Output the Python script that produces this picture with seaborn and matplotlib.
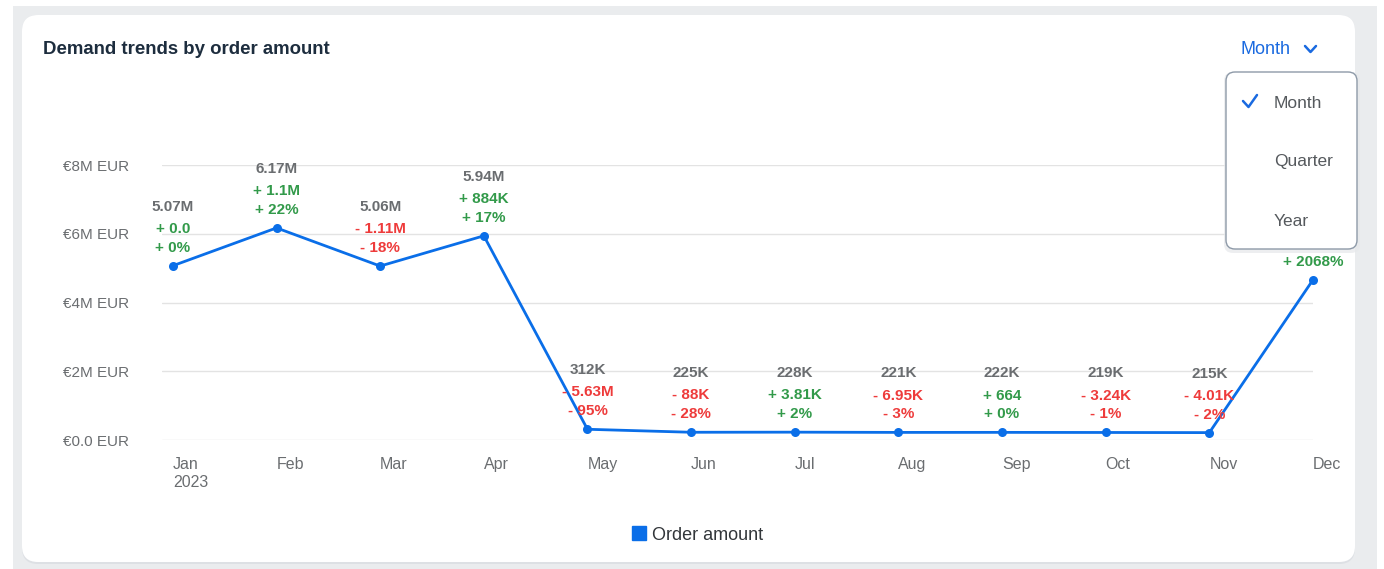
import numpy as np
import pandas as pd
import matplotlib
matplotlib.use("Agg")
import matplotlib.pyplot as plt
from matplotlib.patches import FancyBboxPatch, Rectangle
from matplotlib.lines import Line2D
from matplotlib.transforms import IdentityTransform
import seaborn as sns

# ---------------- data ----------------
months = ["Jan\n2023", "Feb", "Mar", "Apr", "May", "Jun", "Jul", "Aug", "Sep", "Oct", "Nov", "Dec"]
order_amount = [5.07e6, 6.17e6, 5.06e6, 5.94e6, 312e3, 225e3, 228e3, 221e3, 222e3, 219e3, 215e3, 4.66e6]
value_labels = ["5.07M", "6.17M", "5.06M", "5.94M", "312K", "225K", "228K", "221K", "222K", "219K", "215K", "4.66M"]
delta_labels = ["+ 0.0", "+ 1.1M", "- 1.11M", "+ 884K", "- 5.63M", "- 88K", "+ 3.81K", "- 6.95K", "+ 664", "- 3.24K", "- 4.01K", "+ 4.45M"]
pct_labels = ["+ 0%", "+ 22%", "- 18%", "+ 17%", "- 95%", "- 28%", "+ 2%", "- 3%", "+ 0%", "- 1%", "- 2%", "+ 2068%"]
ytick_values = [0, 2e6, 4e6, 6e6, 8e6]
ytick_labels = ["€0.0 EUR", "€2M EUR", "€4M EUR", "€6M EUR", "€8M EUR"]
dropdown_items = ["Month", "Quarter", "Year"]

title = "Demand trends by order amount"
series_name = "Order amount"

# ---------------- style ----------------
sns.set_style("white")
plt.rcParams["font.family"] = ["Liberation Sans", "DejaVu Sans"]

BLUE = "#0a6ee8"
GREEN = "#329a4a"
RED = "#ee3b3b"
GRAY = "#6a6d70"
DARK = "#1d2d3e"

W, H = 1384, 569
fig = plt.figure(figsize=(W / 100, H / 100), dpi=100)
fig.patch.set_facecolor("white")

def px(x, y):
    return x, H - y

# outer gray panel
fig.add_artist(Rectangle(px(13, 569), 1377 - 13, 569 - 6, transform=IdentityTransform(),
                         facecolor="#eaecee", edgecolor="none", zorder=-10))
# card shadow + card
fig.add_artist(FancyBboxPatch(px(22, 564), 1355 - 22, 564 - 15,
                              boxstyle="round,pad=0,rounding_size=16", transform=IdentityTransform(),
                              facecolor="#dde0e4", edgecolor="none", zorder=-9))
fig.add_artist(FancyBboxPatch(px(22, 562), 1355 - 22, 562 - 15,
                              boxstyle="round,pad=0,rounding_size=16", transform=IdentityTransform(),
                              facecolor="white", edgecolor="none", zorder=-8))

# ---------------- axes ----------------
ax = fig.add_axes([162 / W, (H - 440) / H, (1313 - 162) / W, (440 - 165) / H])
ax.set_facecolor("none")

df = pd.DataFrame({"month": np.arange(len(months)), "amount": order_amount})
sns.lineplot(data=df, x="month", y="amount", ax=ax, color=BLUE, linewidth=2.0,
             marker="o", markersize=6.5, markeredgewidth=0, clip_on=False, zorder=3)

ax.set_xlim(-0.105, 11.0)
ax.set_ylim(0, 8e6)
for s in ax.spines.values():
    s.set_visible(False)
ax.set_xlabel("")
ax.set_ylabel("")

ax.set_yticks(ytick_values)
ax.set_yticklabels(ytick_labels)
ax.tick_params(axis="y", length=0, pad=71, labelsize=11, labelcolor=GRAY)
for lab in ax.get_yticklabels():
    lab.set_horizontalalignment("left")

ax.set_xticks(np.arange(len(months)))
ax.set_xticklabels(months)
ax.tick_params(axis="x", length=0, pad=12, labelsize=11.5, labelcolor=GRAY)
for lab in ax.get_xticklabels():
    lab.set_horizontalalignment("left")
    lab.set_multialignment("left")
    lab.set_linespacing(1.25)

ax.yaxis.grid(True, color="#e3e3e3", linewidth=1)
ax.xaxis.grid(False)

for i, v in enumerate(order_amount):
    col = GREEN if delta_labels[i].startswith("+") else RED
    ax.annotate(value_labels[i], (i, v), xytext=(0, 42.5), textcoords="offset points",
                ha="center", va="center", fontsize=11, fontweight="bold", color=GRAY,
                annotation_clip=False, zorder=4)
    ax.annotate(delta_labels[i], (i, v), xytext=(0, 26.5), textcoords="offset points",
                ha="center", va="center", fontsize=11, fontweight="bold", color=col,
                annotation_clip=False, zorder=4)
    ax.annotate(pct_labels[i], (i, v), xytext=(0, 13), textcoords="offset points",
                ha="center", va="center", fontsize=11, fontweight="bold", color=col,
                annotation_clip=False, zorder=4)

# ---------------- title / header ----------------
fig.text(43 / W, 1 - 49 / H, title, fontsize=13.4, fontweight="bold", color=DARK, ha="left", va="center")
fig.text(1240 / W, 1 - 49 / H, "Month", fontsize=13, color="#1a6ae0", ha="left", va="center")
fig.add_artist(Line2D([1305 / W, 1310.5 / W, 1316 / W], [1 - 46 / H, 1 - 52 / H, 1 - 46 / H],
                      transform=fig.transFigure, color="#1a6ae0", linewidth=1.8))

# ---------------- legend ----------------
handle = Line2D([], [], marker="s", linestyle="none", markersize=10, color=BLUE)
fig.legend(handles=[handle], labels=[series_name], loc="center", bbox_to_anchor=(692 / W, 1 - 535 / H),
           frameon=False, fontsize=13, handletextpad=-0.3, labelcolor="#32363a")

# ---------------- dropdown popover ----------------
fig.add_artist(FancyBboxPatch(px(1224, 253), 1360 - 1224, 253 - 72,
                              boxstyle="round,pad=0,rounding_size=9", transform=IdentityTransform(),
                              facecolor="#e6e8eb", edgecolor="none", alpha=0.7, zorder=10))
fig.add_artist(FancyBboxPatch(px(1226, 249), 1357 - 1226, 249 - 72,
                              boxstyle="round,pad=0,rounding_size=9", transform=IdentityTransform(),
                              facecolor="white", edgecolor="#8e9aa8", linewidth=1.0, zorder=11))
for item, yy in zip(dropdown_items, [103, 162, 221]):
    t = fig.text(1274 / W, 1 - yy / H, item, fontsize=12.5, color="#55595d", ha="left", va="center")
    t.set_zorder(12)
fig.add_artist(Line2D([1243 / W, 1248.5 / W, 1257 / W], [1 - 101 / H, 1 - 107 / H, 1 - 95 / H],
                      transform=fig.transFigure, color="#1a6ae0", linewidth=1.8, zorder=12))

fig.savefig("out.png", dpi=100, facecolor=fig.get_facecolor())
